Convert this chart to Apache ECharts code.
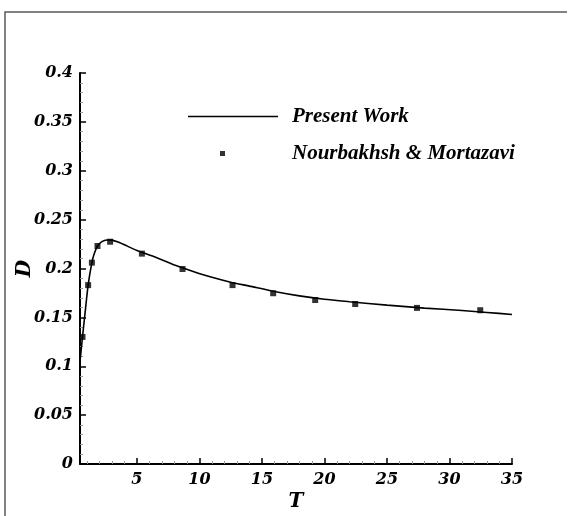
<!DOCTYPE html>
<html>
<head>
<meta charset="utf-8">
<script src="https://cdn.jsdelivr.net/npm/echarts@6/dist/echarts.min.js"></script>
<style>
  html, body { margin: 0; padding: 0; background: #fff; }
  #chart { width: 568px; height: 516px; }
</style>
</head>
<body>
<div id="chart"></div>
<script>
// present work curve (T, D)
const curveT = [0.45, 0.65, 0.9, 1.1, 1.4, 1.6, 1.85, 2.2, 2.6, 3.0, 3.5, 4.0, 5.0, 6.5, 8.0, 9.5, 11.0, 12.5, 14.0, 16.0, 18.0, 20.0, 22.0, 25.0, 28.0, 31.0, 33.0, 35.0];
const curveD = [0.105, 0.130, 0.160, 0.183, 0.206, 0.2155, 0.223, 0.2275, 0.2292, 0.229, 0.227, 0.2242, 0.2185, 0.2115, 0.2035, 0.197, 0.191, 0.186, 0.182, 0.1765, 0.172, 0.1685, 0.166, 0.1625, 0.1595, 0.157, 0.155, 0.153];

// Nourbakhsh & Mortazavi points
const refT = [0.65, 1.1, 1.4, 1.85, 2.86, 5.4, 8.65, 12.65, 15.9, 19.26, 22.46, 27.4, 32.46];
const refD = [0.130, 0.183, 0.206, 0.223, 0.2274, 0.2152, 0.1995, 0.183, 0.1747, 0.1678, 0.1637, 0.1597, 0.1573];

const xMajorTicks = [5, 10, 15, 20, 25, 30, 35];
const xMinorTicks = [1, 2, 3, 4, 6, 7, 8, 9, 11, 12, 13, 14, 16, 17, 18, 19, 21, 22, 23, 24, 26, 27, 28, 29, 31, 32, 33, 34];

const serif = "DejaVu Serif";
const legendFont = "Liberation Serif";

const chart = echarts.init(document.getElementById("chart"));

const xBase = {
  type: "value",
  min: 0.45,
  max: 35,
  position: "bottom",
  splitLine: { show: false },
};

// legend icons: 90x18 box, drawn part only
const lineIcon = "path://M0,0M0,8.2L90,8.2L90,9.8L0,9.8ZM90,18";
const dotIcon = "path://M0,0M32,6.5L37,6.5L37,11.5L32,11.5ZM90,18";

const option = {
  backgroundColor: "#fff",
  animation: false,
  grid: { left: 80, right: 56, top: 73, bottom: 52, outerBoundsMode: "none", containLabel: false },
  graphic: [
    {
      type: "polyline",
      shape: { points: [[5, 516], [5, 12], [567, 12]] },
      style: { stroke: "#5a5a5a", lineWidth: 1.5, fill: null },
    },
  ],
  legend: {
    orient: "vertical",
    left: 183,
    top: 101,
    itemWidth: 90,
    itemHeight: 18,
    itemGap: 16,
    data: [
      { name: "Present Work", icon: lineIcon },
      { name: "Nourbakhsh & Mortazavi", icon: dotIcon },
    ],
    textStyle: {
      fontFamily: legendFont,
      fontStyle: "italic",
      fontWeight: "bold",
      fontSize: 21,
      color: "#000",
      padding: [0, 0, 0, 9],
    },
  },
  xAxis: [
    Object.assign({}, xBase, {
      name: "T",
      nameLocation: "middle",
      nameGap: 28,
      nameMoveOverlap: false,
      nameTextStyle: { fontFamily: serif, fontStyle: "italic", fontWeight: "bold", fontSize: 20, color: "#000" },
      axisLine: { lineStyle: { color: "#000", width: 2 } },
      axisTick: { inside: true, length: 6, customValues: xMajorTicks, lineStyle: { color: "#000", width: 1.5 } },
      axisLabel: {
        customValues: xMajorTicks,
        margin: 8,
        fontFamily: serif,
        fontStyle: "italic",
        fontWeight: "bold",
        fontSize: 16,
        color: "#000",
      },
    }),
    Object.assign({}, xBase, {
      axisLine: { show: false },
      axisTick: { inside: true, length: 3, customValues: xMinorTicks, lineStyle: { color: "#999", width: 1 } },
      axisLabel: { show: false },
    }),
  ],
  yAxis: {
    type: "value",
    min: 0,
    max: 0.4,
    interval: 0.05,
    name: "D",
    nameLocation: "middle",
    nameGap: 45,
    nameMoveOverlap: false,
    nameTextStyle: { fontFamily: serif, fontStyle: "italic", fontWeight: "bold", fontSize: 20, color: "#000" },
    splitLine: { show: false },
    axisLine: { show: true, lineStyle: { color: "#000", width: 2 } },
    axisTick: { inside: true, length: 6, lineStyle: { color: "#000", width: 1.5 } },
    minorTick: { show: true, splitNumber: 5, length: 3, lineStyle: { color: "#999", width: 1 } },
    axisLabel: {
      margin: 7,
      fontFamily: serif,
      fontStyle: "italic",
      fontWeight: "bold",
      fontSize: 16,
      color: "#000",
      formatter: (v) => String(+v.toFixed(2)),
    },
  },
  series: [
    {
      name: "Present Work",
      type: "line",
      data: curveT.map((t, i) => [t, curveD[i]]),
      smooth: 0.2,
      showSymbol: false,
      lineStyle: { color: "#000", width: 1.6 },
      itemStyle: { color: "#000" },
      z: 2,
    },
    {
      name: "Nourbakhsh & Mortazavi",
      type: "scatter",
      data: refT.map((t, i) => [t, refD[i]]),
      symbol: "rect",
      symbolSize: 6,
      itemStyle: { color: "#000" },
      z: 3,
    },
  ],
};

chart.setOption(option);
</script>
</body>
</html>
